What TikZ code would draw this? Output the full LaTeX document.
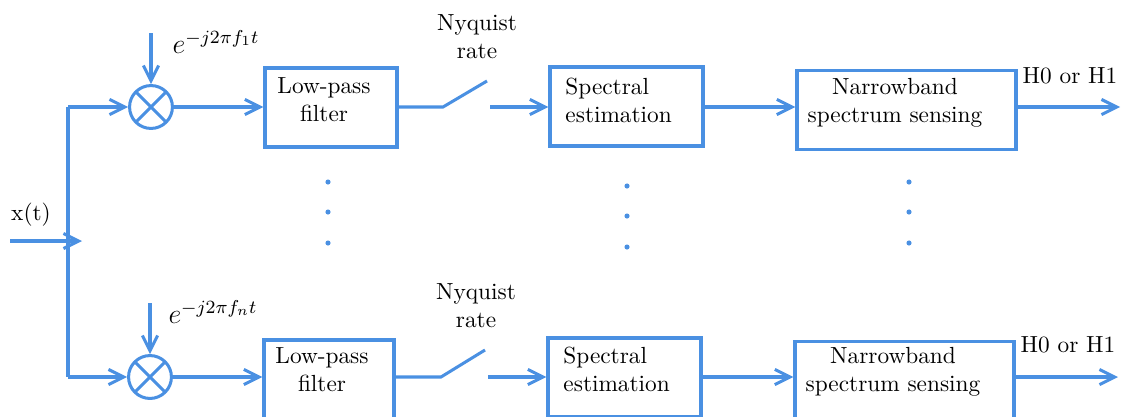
\documentclass[tikz,border=0pt]{standalone}
\usepackage{amsmath}
\usetikzlibrary{arrows.meta}
\definecolor{sigblue}{RGB}{74,144,226}
\tikzset{>={Straight Barb[length=6.5pt,width=6.5pt]}}
\tikzset{
    wire/.style={sigblue, line width=1.3pt},
    blockbox/.style={draw=sigblue, line width=1.4pt, inner sep=0pt, minimum height=33.9pt},
    mixer/.style={circle, draw=sigblue, line width=1.3pt, inner sep=0pt, minimum size=18.4pt,
        path picture={\draw[sigblue, line width=1.3pt]
            (path picture bounding box.north west) -- (path picture bounding box.south east)
            (path picture bounding box.north east) -- (path picture bounding box.south west);}},
    blocktext/.style={align=center, inner sep=0pt}
}

\begin{document}
\begin{tikzpicture}[x=0.429pt, y=-0.429pt]
    \useasboundingbox (0,0) rectangle (1121,416);

    % input and split
    \coordinate (xin) at (10,241);
    \coordinate (xtip) at (82,241);
    \coordinate (br1) at (68,107);
    \coordinate (brn) at (68,377);
    \node[blocktext] (xlabel) at (31,215) {x(t)};
    \draw[wire, ->] (xin) -- (xtip);
    \draw[wire] (br1) -- (brn);

    % first branch
    \node[mixer] (mix1) at (151,107) {};
    \coordinate (osc1) at (151,33);
    \node[blocktext] (osc1label) at (216,42) {\large $e^{-j2\pi f_1 t}$};
    \node[blockbox, minimum width=56.6pt] (lpf1) at (331,107.5) {};
    \node[blocktext] (lpf1text) at (324,100) {Low-pass\\filter};
    \coordinate (sw1a) at (443,107);
    \coordinate (sw1b) at (487,81);
    \coordinate (sw1c) at (490,107);
    \node[blocktext] (nyq1) at (477,37) {Nyquist\\rate};
    \node[blockbox, minimum width=65.6pt] (spec1) at (626.5,106.5) {};
    \node[blocktext, align=left, anchor=west] (spec1text) at (565,100) {Spectral\\estimation};
    \node[blockbox, minimum width=94pt] (nb1) at (906.5,110) {};
    \node[blocktext] (nb1text) at (895,103) {Narrowband\\spectrum sensing};
    \coordinate (out1) at (1120,107);
    \node[blocktext] (dec1) at (1070,76) {H0 or H1};

    \draw[wire, ->] (br1) -- (mix1.west);
    \draw[wire, ->] (osc1) -- (mix1.north);
    \draw[wire, ->] (mix1.east) -- (mix1.east -| lpf1.west);
    \draw[wire] (lpf1.east |- sw1a) -- (sw1a) -- (sw1b);
    \draw[wire, ->] (sw1c) -- (sw1c -| spec1.west);
    \draw[wire, ->] (sw1c -| spec1.east) -- (sw1c -| nb1.west);
    \draw[wire, ->] (sw1c -| nb1.east) -- (out1);

    % last branch
    \node[mixer] (mixn) at (150,377) {};
    \coordinate (oscn) at (150,303);
    \node[blocktext] (oscnlabel) at (213,312) {\large $e^{-j2\pi f_n t}$};
    \node[blockbox, minimum width=55.8pt] (lpfn) at (329,379.5) {};
    \node[blocktext] (lpfntext) at (322,370) {Low-pass\\filter};
    \coordinate (swna) at (441,377);
    \coordinate (swnb) at (485,350);
    \coordinate (swnc) at (488,377);
    \node[blocktext] (nyqn) at (476,306) {Nyquist\\rate};
    \node[blockbox, minimum width=65.6pt] (specn) at (624.5,377.5) {};
    \node[blocktext, align=left, anchor=west] (specntext) at (563,369) {Spectral\\estimation};
    \node[blockbox, minimum width=94pt] (nbn) at (904.5,381) {};
    \node[blocktext] (nbntext) at (893,372) {Narrowband\\spectrum sensing};
    \coordinate (outn) at (1118,377);
    \node[blocktext] (decn) at (1068,345) {H0 or H1};

    \draw[wire, ->] (brn) -- (mixn.west);
    \draw[wire, ->] (oscn) -- (mixn.north);
    \draw[wire, ->] (mixn.east) -- (mixn.east -| lpfn.west);
    \draw[wire] (lpfn.east |- swna) -- (swna) -- (swnb);
    \draw[wire, ->] (swnc) -- (swnc -| specn.west);
    \draw[wire, ->] (swnc -| specn.east) -- (swnc -| nbn.west);
    \draw[wire, ->] (swnc -| nbn.east) -- (outn);

    % dots between the branches
    \foreach \x/\y in {328/182, 328/212, 328/243, 627/186, 627/216, 627/247, 909/182, 909/212, 909/243}
        \fill[sigblue] (\x,\y) circle (1.1pt);

\end{tikzpicture}
\end{document}
